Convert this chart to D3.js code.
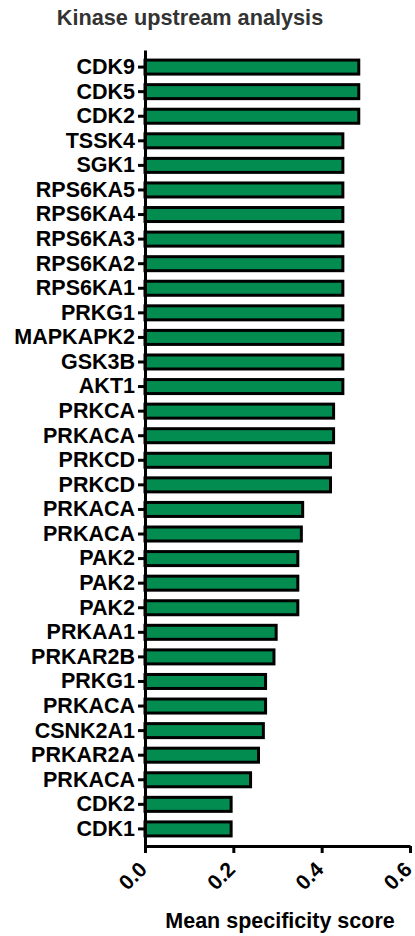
<!DOCTYPE html>
<html>
<head>
<meta charset="utf-8">
<script src="https://cdn.jsdelivr.net/npm/d3@7"></script>
<style>
  body { margin: 0; background: #fff; }
  text { font-family: "Liberation Sans", Arial, sans-serif; font-weight: bold; }
</style>
</head>
<body>
<div id="chart"></div>
<script>
// kinase names, top to bottom
var kinases = ["CDK9", "CDK5", "CDK2", "TSSK4", "SGK1", "RPS6KA5", "RPS6KA4", "RPS6KA3",
  "RPS6KA2", "RPS6KA1", "PRKG1", "MAPKAPK2", "GSK3B", "AKT1", "PRKCA", "PRKACA",
  "PRKCD", "PRKCD", "PRKACA", "PRKACA", "PAK2", "PAK2", "PAK2", "PRKAA1",
  "PRKAR2B", "PRKG1", "PRKACA", "CSNK2A1", "PRKAR2A", "PRKACA", "CDK2", "CDK1"];

// mean specificity score per kinase
var scores = [0.484, 0.484, 0.484, 0.448, 0.448, 0.448, 0.448, 0.448,
  0.448, 0.448, 0.448, 0.448, 0.448, 0.448, 0.427, 0.427,
  0.420, 0.420, 0.357, 0.354, 0.346, 0.346, 0.346, 0.297,
  0.292, 0.273, 0.273, 0.268, 0.257, 0.239, 0.195, 0.195];

var xTicks = [0, 0.2, 0.4, 0.6];

var svgWidth = 415;
var svgHeight = 936;

var svg = d3.select("#chart")
  .append("svg")
  .attr("width", svgWidth)
  .attr("height", svgHeight);

var data = kinases.map(function(k, i) { return { idx: i, name: k, score: scores[i] }; });

// scales
var xScale = d3.scaleLinear()
  .domain([0, 0.6])
  .range([145, 410]);

var yScale = d3.scaleBand()
  .domain(data.map(d => d.idx))
  .range([50, 846])
  .paddingInner(0.43)
  .paddingOuter(0.41);

// bars
svg.selectAll("rect.bar")
  .data(data)
  .enter()
  .append("rect")
  .attr("class", "bar")
  .attr("x", xScale(0))
  .attr("y", d => yScale(d.idx))
  .attr("width", d => xScale(d.score) - xScale(0))
  .attr("height", yScale.bandwidth())
  .attr("fill", "#038c4f")
  .attr("stroke", "#000")
  .attr("stroke-width", 3);

// y axis
var leftAxis = d3.axisLeft(yScale)
  .tickSize(7)
  .tickSizeOuter(0)
  .tickPadding(3)
  .tickFormat(i => kinases[i]);

var yAxis = svg.append("g")
  .attr("transform", `translate(${xScale(0)}, 0)`)
  .call(leftAxis);

yAxis.selectAll("text")
  .attr("font-size", "21.5px")
  .attr("font-family", "'Liberation Sans', Arial, sans-serif")
  .attr("fill", "#000");

// x axis
var bottomAxis = d3.axisBottom(xScale)
  .tickValues(xTicks)
  .tickSize(7)
  .tickSizeOuter(0)
  .tickFormat(d3.format(".1f"));

var xAxis = svg.append("g")
  .attr("transform", "translate(0, 846)")
  .call(bottomAxis);

// rotated tick labels
xAxis.selectAll("text")
  .attr("font-size", "21px")
  .attr("font-family", "'Liberation Sans', Arial, sans-serif")
  .attr("fill", "#000")
  .attr("text-anchor", "end")
  .attr("x", 0)
  .attr("y", 0)
  .attr("dy", "0.35em")
  .attr("transform", "translate(-2.5, 19.5) rotate(-45)");

// axis styling
svg.selectAll(".domain, .tick line")
  .attr("stroke", "#000")
  .attr("stroke-width", 3);

// title
svg.append("text")
  .attr("x", 190)
  .attr("y", 25)
  .attr("text-anchor", "middle")
  .attr("font-size", "21.7px")
  .attr("fill", "#333")
  .text("Kinase upstream analysis");

// x axis label
svg.append("text")
  .attr("x", 280)
  .attr("y", 928)
  .attr("text-anchor", "middle")
  .attr("font-size", "21.5px")
  .attr("fill", "#000")
  .text("Mean specificity score");
</script>
</body>
</html>
